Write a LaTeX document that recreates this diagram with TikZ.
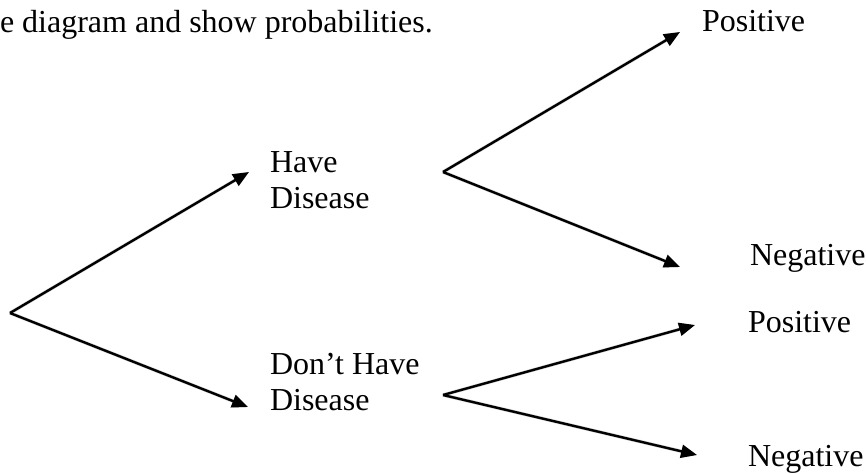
\documentclass[tikz,border=0pt]{standalone}
\usepackage{fontspec}
\setmainfont{Liberation Serif}
\usetikzlibrary{arrows.meta}
\begin{document}
\begin{tikzpicture}[x=0.5pt,y=-0.5pt,
  lbl/.style={inner sep=0pt,outer sep=0pt,anchor=base west,align=left,font=\fontsize{16}{18}\selectfont},
  branch/.style={line width=1.2pt,-{Triangle[length=8pt,width=6.5pt]}},
  shade/.style={line width=1.7pt,black!18,shift={(1.5,3)},-{Triangle[length=8pt,width=6.5pt]}}]
\useasboundingbox (0,0) rectangle (866,473);
% text
\node[lbl] (title) at (0,32) {e diagram and show probabilities.};
\node[lbl] (hd) at (270,208) {Have\\Disease};
\node[lbl] (dhd) at (270,410) {Don’t Have\\Disease};
\node[lbl] (p1) at (702,31) {Positive};
\node[lbl] (n1) at (750,265) {Negative};
\node[lbl] (p2) at (748,332) {Positive};
\node[lbl] (n2) at (748,466) {Negative};
% branch points and tips
\coordinate (root) at (10,313);
\coordinate (hdtip) at (249,172);
\coordinate (dhdtip) at (248,407);
\coordinate (b1) at (443,172);
\coordinate (p1tip) at (680,32);
\coordinate (n1tip) at (680,267);
\coordinate (b2) at (443,395);
\coordinate (p2tip) at (695,325);
\coordinate (n2tip) at (697,455);
% soft shadows
\draw[shade] (root) -- (hdtip);
\draw[shade] (root) -- (dhdtip);
\draw[shade] (b1) -- (p1tip);
\draw[shade] (b1) -- (n1tip);
\draw[shade] (b2) -- (p2tip);
\draw[shade] (b2) -- (n2tip);
% connectors
\draw[branch] (root) -- (hdtip);
\draw[branch] (root) -- (dhdtip);
\draw[branch] (b1) -- (p1tip);
\draw[branch] (b1) -- (n1tip);
\draw[branch] (b2) -- (p2tip);
\draw[branch] (b2) -- (n2tip);
\end{tikzpicture}
\end{document}
